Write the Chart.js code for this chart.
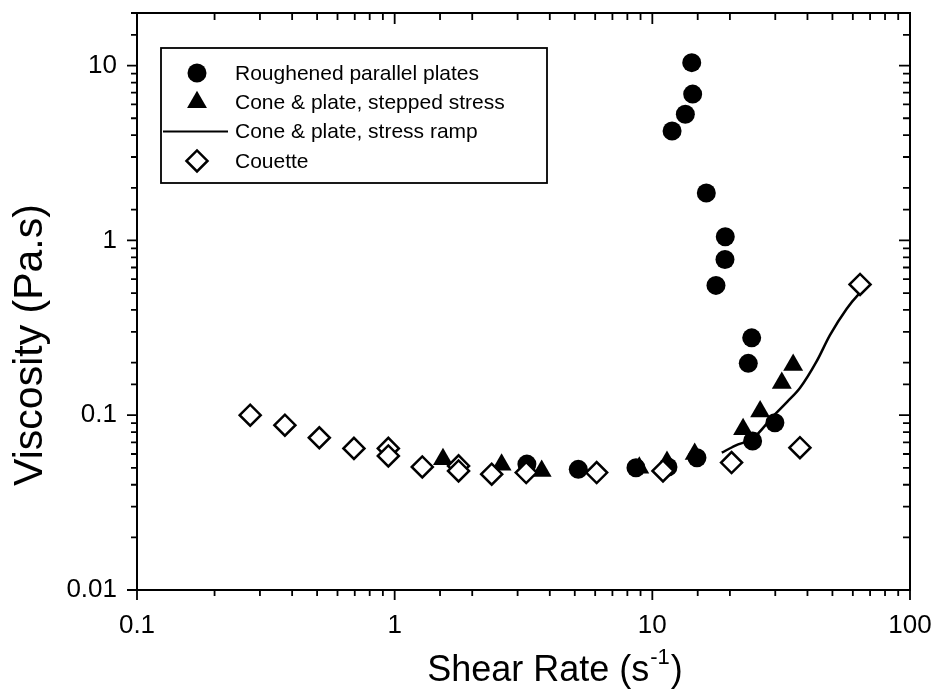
<!DOCTYPE html>
<html>
<head>
<meta charset="utf-8">
<script src="https://cdn.jsdelivr.net/npm/chart.js@4.4.0/dist/chart.umd.min.js"></script>
<style>
  html, body { margin: 0; padding: 0; background: #fff; }
  canvas { display: block; }
</style>
</head>
<body>
<canvas id="myChart" width="935" height="696"></canvas>
<script>
// values
const roughX = [3.26, 5.16, 8.64, 11.5, 14.9, 11.93, 13.43, 14.22, 14.34, 16.2, 17.66, 19.14, 19.19, 23.57, 24.3, 24.5, 29.9];
const roughY = [0.0525, 0.049, 0.05, 0.0506, 0.0571, 4.23, 5.27, 10.4, 6.87, 1.866, 0.553, 0.777, 1.05, 0.198, 0.277, 0.0712, 0.0905];

const stepX = [1.54, 2.6, 3.72, 8.9, 11.4, 14.6, 22.5, 26.2, 31.8, 35.2];
const stepY = [0.056, 0.052, 0.048, 0.05, 0.054, 0.06, 0.083, 0.105, 0.153, 0.194];

const rampX = [18.6, 21, 24.7, 29.5, 33.5, 37.4, 43.4, 48.9, 56.8, 63, 70];
const rampY = [0.0611, 0.067, 0.0743, 0.099, 0.12, 0.143, 0.203, 0.287, 0.407, 0.49, 0.565];

const couetteX = [0.275, 0.375, 0.51, 0.695, 0.945, 0.945, 1.28, 1.77, 1.77, 2.38, 3.24, 6.08, 11.0, 20.3, 37.4, 64];
const couetteY = [0.1, 0.0877, 0.0743, 0.0646, 0.0646, 0.0585, 0.0506, 0.0513, 0.048, 0.046, 0.047, 0.047, 0.048, 0.0536, 0.0652, 0.56];

const xTickLabels = [0.1, 1, 10, 100];
const yTickLabels = [0.01, 0.1, 1, 10];

const FONT = '"Liberation Sans", Arial, Helvetica, sans-serif';

function pts(xs, ys) { return xs.map((x, i) => ({ x: x, y: ys[i] })); }
function isDecade(v) {
    const l = Math.log10(v);
    return Math.abs(l - Math.round(l)) < 1e-9;
}
function labelFrom(list) {
    return function(value) {
        return list.some(v => Math.abs(v - value) < v * 1e-6) ? String(value) : '';
    };
}

function drawMarker(ctx, style, x, y, r) {
    ctx.beginPath();
    if (style === 'circle') {
        ctx.arc(x, y, r, 0, Math.PI * 2);
    } else if (style === 'triangle') {
        ctx.moveTo(x, y - r);
        ctx.lineTo(x + 0.866 * r, y + 0.5 * r);
        ctx.lineTo(x - 0.866 * r, y + 0.5 * r);
        ctx.closePath();
    } else if (style === 'rectRot') {
        ctx.moveTo(x - r, y);
        ctx.lineTo(x, y - r);
        ctx.lineTo(x + r, y);
        ctx.lineTo(x, y + r);
        ctx.closePath();
    }
}

const frameAndTicks = {
    id: 'frameAndTicks',
    afterDraw(chart) {
        const ctx = chart.ctx;
        const a = chart.chartArea;
        const xs = chart.scales.x, ys = chart.scales.y;
        ctx.save();
        ctx.strokeStyle = '#000';
        ctx.lineWidth = 2;
        ctx.strokeRect(a.left, a.top, a.right - a.left, a.bottom - a.top);
        ctx.lineWidth = 1.8;
        ctx.beginPath();
        xs.ticks.forEach(t => {
            const p = xs.getPixelForValue(t.value);
            const len = isDecade(t.value) ? 10 : 6;
            ctx.moveTo(p, a.bottom); ctx.lineTo(p, a.bottom + len);
            ctx.moveTo(p, a.top); ctx.lineTo(p, a.top + len + 1);
        });
        ys.ticks.forEach(t => {
            const p = ys.getPixelForValue(t.value);
            const len = isDecade(t.value) ? 10 : 6;
            ctx.moveTo(a.left - len, p); ctx.lineTo(a.left, p);
            ctx.moveTo(a.right - len - 1, p); ctx.lineTo(a.right, p);
        });
        ctx.stroke();

        // axis titles
        ctx.fillStyle = '#000';
        ctx.textAlign = 'left';
        ctx.textBaseline = 'alphabetic';
        const big = '36px ' + FONT, small = '22px ' + FONT;
        ctx.font = big;
        const w1 = ctx.measureText('Shear Rate (s').width;
        const w3 = ctx.measureText(')').width;
        ctx.font = small;
        const w2 = ctx.measureText('-1').width;
        let x0 = 555 - (w1 + w2 + w3 + 2) / 2;
        const base = 681;
        ctx.font = big;
        ctx.fillText('Shear Rate (s', x0, base);
        ctx.font = small;
        ctx.fillText('-1', x0 + w1 + 1, base - 17);
        ctx.font = big;
        ctx.fillText(')', x0 + w1 + w2 + 2, base);

        ctx.translate(31, 345);
        ctx.rotate(-Math.PI / 2);
        ctx.textAlign = 'center';
        ctx.textBaseline = 'middle';
        ctx.font = '41px ' + FONT;
        ctx.fillText('Viscosity (Pa.s)', 0, 0);
        ctx.restore();
    }
};

const legendBox = {
    id: 'legendBox',
    afterDraw(chart) {
        const ctx = chart.ctx;
        const a = chart.chartArea;
        const left = a.left + 24, top = a.top + 35;
        ctx.save();
        ctx.strokeStyle = '#000';
        ctx.lineWidth = 1.8;
        ctx.strokeRect(left, top, 386, 135);
        ctx.font = '21px ' + FONT;
        ctx.textBaseline = 'middle';
        ctx.textAlign = 'left';
        chart.data.datasets.forEach((ds, i) => {
            const y = top + 25 + i * 29.3;
            const mx = left + 36;
            ctx.fillStyle = '#000';
            if (ds.showLine) {
                ctx.lineWidth = 2;
                ctx.beginPath();
                ctx.moveTo(left + 2, y);
                ctx.lineTo(left + 67, y);
                ctx.stroke();
            } else {
                drawMarker(ctx, ds.pointStyle, mx, y, ds.pointRadius);
                ctx.fillStyle = ds.pointBackgroundColor;
                ctx.fill();
                if (ds.pointBorderWidth > 0) {
                    ctx.lineWidth = ds.pointBorderWidth;
                    ctx.stroke();
                }
            }
            ctx.fillStyle = '#000';
            ctx.fillText(ds.label, left + 74, y + 1);
        });
        ctx.restore();
    }
};

const ctx = document.getElementById('myChart').getContext('2d');
const chart = new Chart(ctx, {
    type: 'scatter',
    data: {
        datasets: [{
            label: 'Roughened parallel plates',
            data: pts(roughX, roughY),
            pointStyle: 'circle',
            pointRadius: 9.5,
            pointBackgroundColor: '#000',
            pointBorderColor: '#000',
            pointBorderWidth: 0,
            showLine: false,
            order: 2
        }, {
            label: 'Cone & plate, stepped stress',
            data: pts(stepX, stepY),
            pointStyle: 'triangle',
            pointRadius: 11.5,
            pointBackgroundColor: '#000',
            pointBorderColor: '#000',
            pointBorderWidth: 0,
            showLine: false,
            order: 3
        }, {
            label: 'Cone & plate, stress ramp',
            data: pts(rampX, rampY),
            showLine: true,
            borderColor: '#000',
            borderWidth: 2.5,
            pointRadius: 0,
            cubicInterpolationMode: 'monotone',
            order: 1
        }, {
            label: 'Couette',
            data: pts(couetteX, couetteY),
            pointStyle: 'rectRot',
            pointRadius: 10.5,
            pointBackgroundColor: '#fff',
            pointBorderColor: '#000',
            pointBorderWidth: 2.5,
            showLine: false,
            order: 0
        }]
    },
    options: {
        responsive: false,
        animation: false,
        devicePixelRatio: 1,
        layout: { padding: { top: 10, right: 25, left: 0, bottom: 0 } },
        plugins: {
            legend: { display: false },
            tooltip: { enabled: false }
        },
        scales: {
            x: {
                type: 'logarithmic',
                position: 'bottom',
                min: 0.1,
                max: 100,
                grid: { display: false, drawTicks: false },
                border: { display: false },
                ticks: {
                    autoSkip: false,
                    maxRotation: 0,
                    padding: 20,
                    color: '#000',
                    font: { family: FONT, size: 26 },
                    callback: labelFrom(xTickLabels)
                },
                afterFit: s => {
                    s.height = 106;
                    s.paddingLeft = 0; s.paddingRight = 0;
                    s.paddingTop = 0; s.paddingBottom = 0;
                }
            },
            y: {
                type: 'logarithmic',
                position: 'left',
                min: 0.01,
                max: 20,
                grid: { display: false, drawTicks: false },
                border: { display: false },
                ticks: {
                    autoSkip: false,
                    padding: 20,
                    color: '#000',
                    font: { family: FONT, size: 26 },
                    callback: labelFrom(yTickLabels)
                },
                afterFit: s => {
                    s.width = 137;
                    s.paddingLeft = 0; s.paddingRight = 0;
                    s.paddingTop = 0; s.paddingBottom = 0;
                }
            }
        }
    },
    plugins: [frameAndTicks, legendBox]
});
</script>
</body>
</html>
